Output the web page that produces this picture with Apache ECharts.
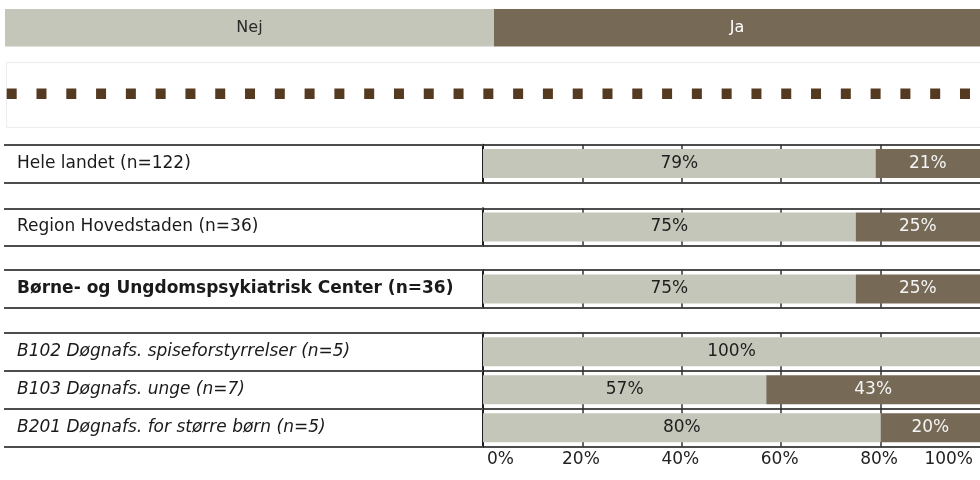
<!DOCTYPE html>
<html>
<head>
<meta charset="utf-8">
<script src="https://cdn.jsdelivr.net/npm/echarts@6/dist/echarts.min.js"></script>
<style>
  html, body { margin: 0; padding: 0; background: #ffffff; }
  #chart { width: 980px; height: 480px; }
</style>
</head>
<body>
<div id="chart"></div>
<script>
// Answer categories (legend strip)
const answerNames = ['Nej', 'Ja'];

// Row groups: national, regional, centre, and the centre's units
const catsCountry = ['Hele landet (n=122)'];
const nejCountry = [79];
const jaCountry = [21];

const catsRegion = ['Region Hovedstaden (n=36)'];
const nejRegion = [75];
const jaRegion = [25];

const catsCentre = ['Børne- og Ungdomspsykiatrisk Center (n=36)'];
const nejCentre = [75];
const jaCentre = [25];

const catsUnits = [
  'B102 Døgnafs. spiseforstyrrelser (n=5)',
  'B103 Døgnafs. unge (n=7)',
  'B201 Døgnafs. for større børn (n=5)'
];
const nejUnits = [100, 57, 80];
const jaUnits = [0, 43, 20];

// Percent scale ticks
const xMin = 0, xMax = 100, xStep = 20;

// ---- styling / layout ----
const FONT = 'DejaVu Sans, Verdana, sans-serif';
const FS = 17;
const COL_NEJ = '#c5c6ba';
const COL_JA = '#766a57';
const COL_DOT = '#553a22';
const LINE = '#4d4d4d';
const PLOT_LEFT = 483;
const LABEL_LEFT = 17;
const TABLE_LEFT = 4;

const groups = [
  { cats: catsCountry, nej: nejCountry, ja: jaCountry, top: 144.7, rowH: 37.6, weight: 'normal', style: 'normal' },
  { cats: catsRegion,  nej: nejRegion,  ja: jaRegion,  top: 208.3, rowH: 37.2, weight: 'normal', style: 'normal' },
  { cats: catsCentre,  nej: nejCentre,  ja: jaCentre,  top: 270.2, rowH: 37.5, weight: 'bold',   style: 'normal' },
  { cats: catsUnits,   nej: nejUnits,   ja: jaUnits,   top: 332.7, rowH: 38.0, weight: 'normal', style: 'italic' }
];

const grids = [], xAxes = [], yAxes = [], series = [];

groups.forEach(function (g, i) {
  const h = g.rowH * g.cats.length;
  const last = i === groups.length - 1;
  grids.push({ left: PLOT_LEFT, right: 0, top: g.top, height: h, outerBoundsMode: 'none', containLabel: false });

  xAxes.push({
    type: 'value', gridIndex: i, min: xMin, max: xMax, interval: xStep,
    axisLine: { show: false },
    axisTick: { show: false },
    axisLabel: {
      show: last, formatter: '{value}%', margin: 4,
      fontFamily: FONT, fontSize: FS, color: '#222',
      alignMinLabel: 'left', alignMaxLabel: 'right',
      padding: [0, 7, 0, 4]
    },
    // short tick marks where each row border meets a gridline
    splitLine: {
      show: true, showMinLine: false, showMaxLine: false,
      lineStyle: { color: '#333', width: 1.5, type: [10, g.rowH - 10], dashOffset: 5 }
    }
  });

  yAxes.push({
    type: 'category', gridIndex: i, data: g.cats, inverse: true,
    axisLine: { show: true, lineStyle: { color: '#1f1f1f', width: 2 } },
    // long ticks carry the row borders across the label column
    axisTick: { show: true, length: PLOT_LEFT - TABLE_LEFT, lineStyle: { color: LINE, width: 2 } },
    splitLine: { show: true, lineStyle: { color: LINE, width: 2 } },
    axisLabel: {
      align: 'left', margin: PLOT_LEFT - LABEL_LEFT,
      fontFamily: FONT, fontSize: FS, color: '#1a1a1a',
      fontWeight: g.weight, fontStyle: g.style
    }
  });

  const hideZero = function (p) { return p.value > 0 ? p.value + '%' : ''; };
  series.push({
    name: answerNames[0], type: 'bar', stack: 'g' + i, xAxisIndex: i, yAxisIndex: i,
    data: g.nej, barWidth: 29, itemStyle: { color: COL_NEJ },
    label: { show: true, position: 'inside', formatter: hideZero, fontFamily: FONT, fontSize: FS, color: '#1e1e1e' }
  });
  series.push({
    name: answerNames[1], type: 'bar', stack: 'g' + i, xAxisIndex: i, yAxisIndex: i,
    data: g.ja, barWidth: 29, itemStyle: { color: COL_JA },
    label: { show: true, position: 'inside', formatter: hideZero, fontFamily: FONT, fontSize: FS, color: '#f4f4f4' }
  });
});

// Legend strip and the dotted divider above the table
const graphic = [
  { type: 'rect', shape: { x: 5, y: 9, width: 489, height: 37.5 }, style: { fill: COL_NEJ }, silent: true },
  { type: 'rect', shape: { x: 494, y: 9, width: 486, height: 37.5 }, style: { fill: COL_JA }, silent: true },
  { type: 'text', x: 249.5, y: 28, style: { text: answerNames[0], fill: '#2a2a2a', font: '16px ' + FONT, textAlign: 'center', textVerticalAlign: 'middle' }, silent: true },
  { type: 'text', x: 737, y: 28, style: { text: answerNames[1], fill: '#ffffff', font: '16px ' + FONT, textAlign: 'center', textVerticalAlign: 'middle' }, silent: true },
  { type: 'rect', shape: { x: 6.5, y: 62.5, width: 980, height: 65 }, style: { fill: 'none', stroke: '#ececec', lineWidth: 1 }, silent: true },
  { type: 'line', shape: { x1: 6.7, y1: 93.7, x2: 980, y2: 93.7 }, style: { stroke: COL_DOT, lineWidth: 10.5, lineDash: [10, 19.79] }, silent: true }
];

const chart = echarts.init(document.getElementById('chart'), null, { renderer: 'canvas' });
chart.setOption({
  animation: false,
  backgroundColor: '#ffffff',
  grid: grids,
  xAxis: xAxes,
  yAxis: yAxes,
  series: series,
  graphic: graphic
});
</script>
</body>
</html>
